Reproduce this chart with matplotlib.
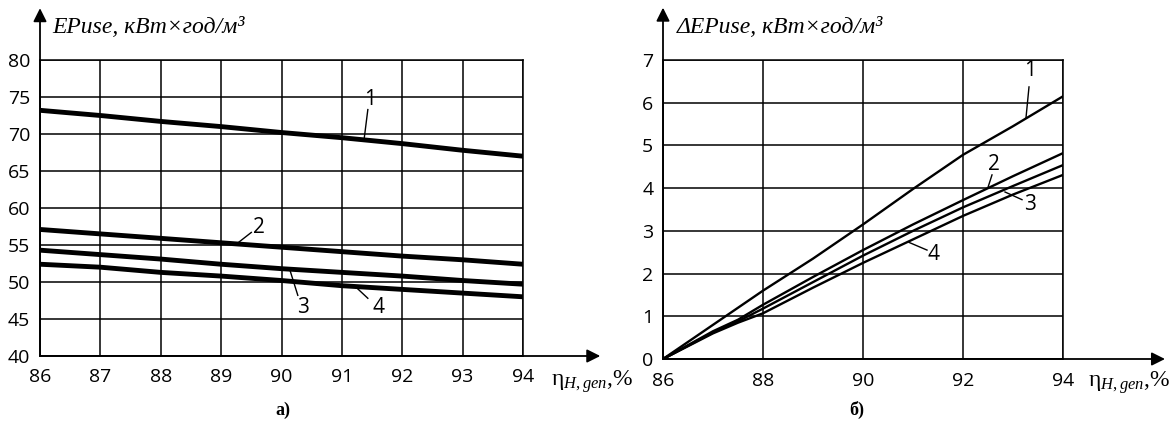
import matplotlib.pyplot as plt

plt.rcParams['font.family'] = ['Open Sans', 'DejaVu Sans']
plt.rcParams['mathtext.fontset'] = 'custom'
plt.rcParams['mathtext.rm'] = 'Liberation Serif'
plt.rcParams['mathtext.it'] = 'Liberation Serif:italic'

# panel a) - EPuse vs efficiency
eta_a = [86, 87, 88, 89, 90, 91, 92, 93, 94]
ep_1 = [73.2, 72.5, 71.7, 71.0, 70.2, 69.5, 68.7, 67.8, 67.0]
ep_2 = [57.1, 56.5, 55.9, 55.3, 54.7, 54.1, 53.5, 53.0, 52.4]
ep_3 = [54.3, 53.7, 53.1, 52.4, 51.8, 51.3, 50.8, 50.2, 49.7]
ep_4 = [52.4, 52.0, 51.3, 50.8, 50.2, 49.5, 49.0, 48.5, 48.0]

# panel b) - delta EPuse vs efficiency
eta_b = [86, 87, 87.5, 88, 89, 90, 91, 92, 93, 94]
dep_1 = [0, 0.8, 1.2, 1.6, 2.35, 3.15, 3.98, 4.78, 5.45, 6.15]
dep_2 = [0, 0.65, 0.92, 1.27, 1.92, 2.55, 3.15, 3.72, 4.28, 4.82]
dep_3 = [0, 0.62, 0.88, 1.18, 1.8, 2.42, 3.0, 3.55, 4.05, 4.54]
dep_4 = [0, 0.6, 0.85, 1.07, 1.67, 2.25, 2.8, 3.35, 3.85, 4.31]

W, H = 1172, 429
fig = plt.figure(figsize=(W / 100, H / 100), dpi=100)


def make_axes(x0, x1, y_top, y_bot):
    return fig.add_axes([x0 / W, (H - y_bot) / H, (x1 - x0) / W, (y_bot - y_top) / H])


def style(ax, xticks, yticks, tip_x, tip_y):
    ax.set_xticks(xticks)
    ax.set_yticks(yticks)
    ax.set_xlim(xticks[0], xticks[-1])
    ax.set_ylim(yticks[0], yticks[-1])
    ax.grid(True, color='black', lw=1.1)
    ax.tick_params(length=0, labelsize=14)
    ax.tick_params(axis='x', pad=9)
    ax.tick_params(axis='y', pad=7)
    for s in ax.spines.values():
        s.set_linewidth(1.1)
    ax.set_axisbelow(True)
    arrow = dict(arrowstyle='-|>', lw=1.3, color='black', mutation_scale=20, shrinkA=0, shrinkB=0)
    ax.annotate('', xy=(tip_x, 0), xytext=(0, 0), xycoords='axes fraction',
                arrowprops=arrow, annotation_clip=False)
    ax.annotate('', xy=(0, tip_y), xytext=(0, 0), xycoords='axes fraction',
                arrowprops=arrow, annotation_clip=False)


def leader(ax, text, tx, ty, x0, y0, x1, y1):
    ax.plot([x0, x1], [y0, y1], color='black', lw=1, clip_on=False)
    ax.text(tx, ty, text, fontsize=15, ha='center', va='center')


# ---- a)
ax1 = make_axes(40, 523, 60, 356)
style(ax1, list(range(86, 95)), list(range(40, 85, 5)), 1.16, 1.175)
for y in [ep_1, ep_2, ep_3, ep_4]:
    ax1.plot(eta_a, y, color='black', lw=3.5, solid_capstyle='round')
leader(ax1, '1', 91.46, 74.6, 91.43, 73.3, 91.37, 69.4)
leader(ax1, '2', 89.62, 57.4, 89.5, 56.7, 89.28, 55.3)
leader(ax1, '3', 90.35, 46.6, 90.27, 48.2, 90.14, 51.6)
leader(ax1, '4', 91.6, 46.6, 91.43, 47.8, 91.22, 49.4)
ax1.text(0.025, 1.11, 'EPuse, кВт×год/м³', transform=ax1.transAxes, fontsize=17,
         family='Liberation Serif', style='italic', va='center')
ax1.text(1.058, -0.085, r'$\mathrm{\eta}_{H,gen}$,%', transform=ax1.transAxes, fontsize=17,
         family='Liberation Serif', va='center')

# ---- б)
ax2 = make_axes(663, 1063, 60, 359)
style(ax2, [86, 88, 90, 92, 94], list(range(0, 8)), 1.255, 1.175)
for y in [dep_1, dep_2, dep_3, dep_4]:
    ax2.plot(eta_b, y, color='black', lw=1.7)
leader(ax2, '1', 93.34, 6.75, 93.32, 6.37, 93.26, 5.65)
leader(ax2, '2', 92.62, 4.55, 92.58, 4.31, 92.5, 4.02)
leader(ax2, '3', 93.34, 3.62, 93.18, 3.73, 92.84, 3.91)
leader(ax2, '4', 91.4, 2.45, 91.28, 2.55, 90.92, 2.73)
ax2.text(0.035, 1.11, 'ΔEPuse, кВт×год/м³', transform=ax2.transAxes, fontsize=17,
         family='Liberation Serif', style='italic', va='center')
ax2.text(1.062, -0.08, r'$\mathrm{\eta}_{H,gen}$,%', transform=ax2.transAxes, fontsize=17,
         family='Liberation Serif', va='center')

fig.text(283 / W, 1 - 410 / H, 'а)', family='Liberation Serif', weight='bold', fontsize=13,
         ha='center', va='center')
fig.text(857 / W, 1 - 410 / H, 'б)', family='Liberation Serif', weight='bold', fontsize=13,
         ha='center', va='center')

fig.savefig('out.png', dpi=100)
